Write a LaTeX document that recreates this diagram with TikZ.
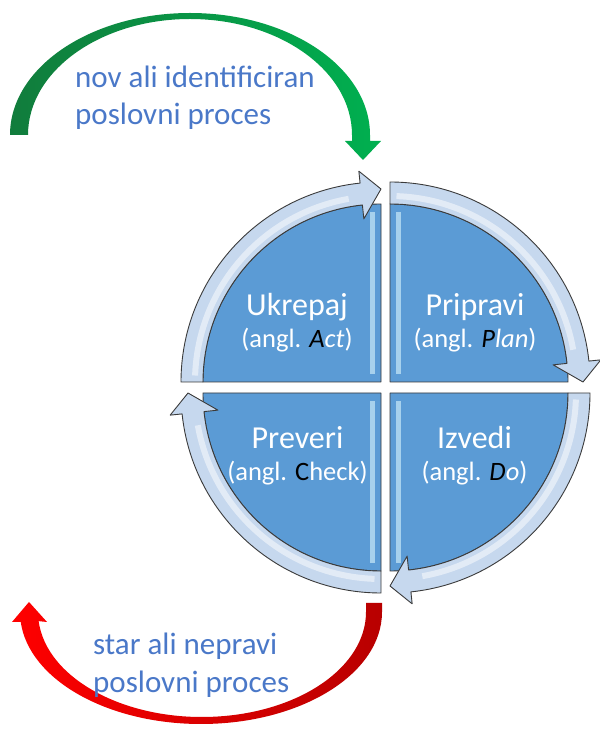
\documentclass[tikz,border=0pt]{standalone}
\usepackage{fontspec}
\setmainfont{Carlito}
\usetikzlibrary{calc}

\definecolor{quadblue}{HTML}{5B9BD5}
\definecolor{bandblue}{HTML}{C6D8EE}
\definecolor{edgegray}{HTML}{3A3A3A}
\definecolor{gloss}{HTML}{C8E8F8}
\definecolor{labelblue}{HTML}{4A78C8}
\definecolor{greendark}{HTML}{117C3C}
\definecolor{greenblue}{HTML}{3A6FA0}
\definecolor{greenlight}{HTML}{00B050}
\definecolor{reddark}{HTML}{B80000}
\definecolor{redlight}{HTML}{FF0000}

\tikzset{
  sector/.style={fill=quadblue, draw=edgegray, line width=0.9pt, line join=round},
  band/.style={fill=bandblue, draw=edgegray, line width=0.9pt, line join=round},
  bandgloss/.style={draw=white, opacity=0.5, line width=6pt},
  stripe/.style={fill=gloss, opacity=0.7},
  title/.style={text=white, font=\fontsize{32}{35}\selectfont, anchor=base, inner sep=0pt},
  subtitle/.style={text=white, font=\fontsize{26.5}{29}\selectfont, anchor=base, inner sep=0pt},
  caption/.style={text=labelblue, font=\fontsize{31}{34}\selectfont, anchor=base west, inner sep=0pt},
}

% One quarter of the cycle: blue sector plus a curved arrow running clockwise
% #1 centre, #2 start angle of the arrow, #3/#4 sign of the gloss stripe in x/y
\newcommand\pdcaquad[4]{%
  \begin{scope}[shift={#1}]
    \path[sector] (0,0) -- (#2:178) arc[start angle=#2, end angle=#2-90, radius=178] -- cycle;
    \fill[stripe] (#3*6,#4*8) rectangle (#3*11,#4*170);
    \path[band] (#2:200) arc[start angle=#2, end angle=#2-84, radius=200]
      -- (#2-84:212) -- (#2-90:193) -- (#2-84:164) -- (#2-84:178)
      arc[start angle=#2-84, end angle=#2, radius=178] -- cycle;
    \draw[bandgloss] (#2-2:186) arc[start angle=#2-2, end angle=#2-80, radius=186];
  \end{scope}}

\begin{document}
\begin{tikzpicture}[x=1pt, y=1pt]
  \useasboundingbox (0,0) rectangle (600,729);

  % the four quarters
  \pdcaquad{(381,347)}{180}{-1}{1}
  \pdcaquad{(390,347)}{90}{1}{1}
  \pdcaquad{(390,336)}{0}{1}{-1}
  \pdcaquad{(381,336)}{270}{-1}{-1}

  % quarter labels
  \node[title]    (act)      at (297,413) {Ukrepaj};
  \node[subtitle] (actsub)   at (297,381) {(angl. {\itshape\color{black}A}{\itshape ct})};
  \node[title]    (plan)     at (475,413) {Pripravi};
  \node[subtitle] (plansub)  at (475,381) {(angl. {\itshape\color{black}P}{\itshape lan})};
  \node[title]    (check)    at (297.5,280) {Preveri};
  \node[subtitle] (checksub) at (297.5,248) {(angl. {\color{black}C}heck)};
  \node[title]    (do)       at (474.5,280) {Izvedi};
  \node[subtitle] (dosub)    at (474.5,248) {(angl. {\itshape\color{black}D}{\itshape o})};

  % entry arrow: a new or identified process enters the cycle
  \shade[left color=greendark, middle color=greenblue, right color=greenlight]
    (10,594) arc[start angle=180, end angle=0, x radius=180, y radius=122]
    -- (370,588) -- (381,588) -- (363,569) -- (345,588) -- (352,588) -- (352,594)
    arc[start angle=0, end angle=180, x radius=162, y radius=116] -- cycle;

  % exit arrow: an old or wrong process leaves the cycle
  \shade[left color=redlight, right color=reddark]
    (382,126) -- (382,117)
    arc[start angle=0, end angle=-175, x radius=181, y radius=112]
    -- (12,107) -- (29,127) -- (47,107)
    -- ($(202,117)+(-175:164 and 105)$)
    arc[start angle=-175, end angle=0, x radius=164, y radius=105]
    -- (366,126) -- cycle;

  % captions
  \node[caption] (newa) at (75,641) {nov ali identificiran};
  \node[caption] (newb) at (75,604) {poslovni proces};
  \node[caption] (olda) at (93,74)  {star ali nepravi};
  \node[caption] (oldb) at (93,36)  {poslovni proces};
\end{tikzpicture}
\end{document}
